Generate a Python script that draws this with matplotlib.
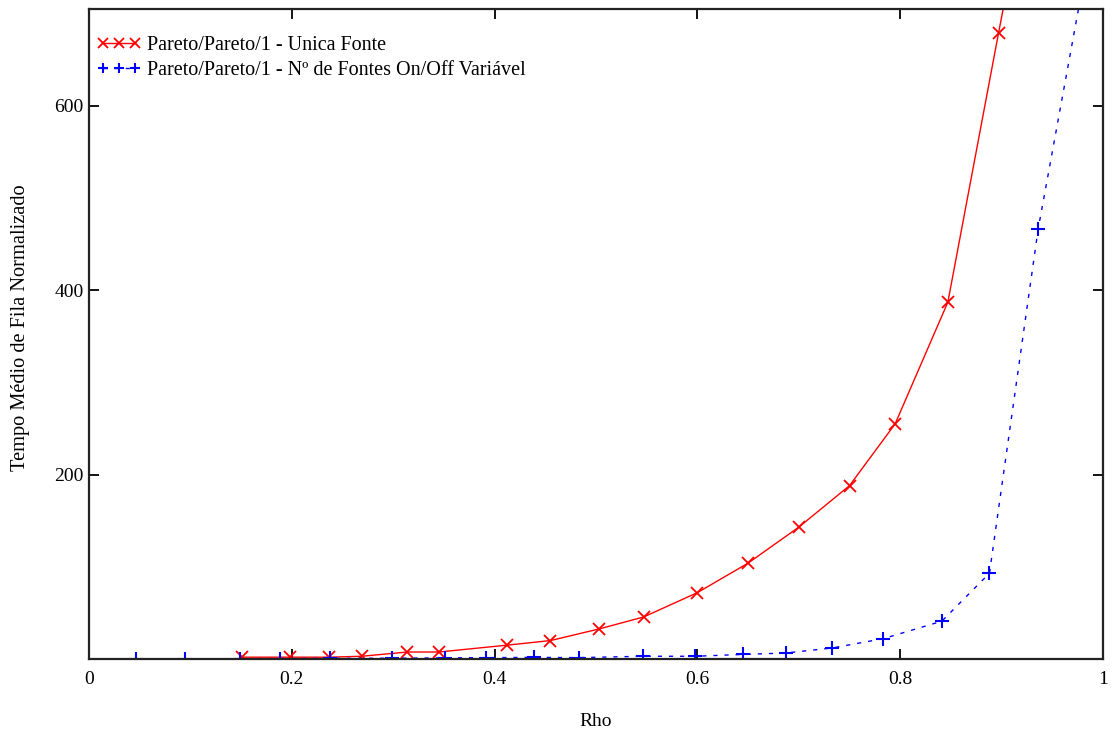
import matplotlib
matplotlib.use("Agg")
import matplotlib.pyplot as plt

# Pareto/Pareto/1 queue, single source
rho_unica = [0.151, 0.198, 0.237, 0.269, 0.314, 0.345, 0.412, 0.455, 0.503,
             0.547, 0.600, 0.650, 0.700, 0.750, 0.795, 0.847, 0.897, 0.948]
tempo_unica = [2, 2, 2, 3, 7.6, 7.6, 15, 20, 32.6,
               45.6, 72, 104, 143, 188, 255, 387, 679, 970]

# Pareto/Pareto/1 queue, variable number of On/Off sources
rho_var = [0.046, 0.095, 0.149, 0.188, 0.238, 0.299, 0.351, 0.392, 0.439,
           0.483, 0.546, 0.598, 0.645, 0.687, 0.733, 0.783, 0.841, 0.888,
           0.936, 0.990]
tempo_var = [0.2, 0.3, 0.4, 0.5, 0.7, 0.9, 1.2, 1.5, 1.8,
             1.5, 3, 3, 5, 6.5, 12, 22, 41, 93,
             466, 790]

label_unica = "Pareto/Pareto/1 - Unica Fonte"
label_var = "Pareto/Pareto/1 - Nº de Fontes On/Off Variável"

plt.rcParams["font.family"] = ["Liberation Serif", "DejaVu Serif"]

fig = plt.figure(figsize=(11.18, 7.37), dpi=100)
ax = fig.add_axes([0.0796, 0.1058, 0.9070, 0.8822])

ax.plot(rho_unica, tempo_unica, color="red", lw=1.0, marker="x",
        markersize=9, markeredgewidth=1.3, label=label_unica)
ax.plot(rho_var, tempo_var, color="blue", lw=1.0, ls=(0, (3, 5)), marker="+",
        markersize=10, markeredgewidth=1.5, label=label_var)

ax.set_xlim(0, 1)
ax.set_ylim(0, 705)
ax.set_xticks([0, 0.2, 0.4, 0.6, 0.8, 1])
ax.set_xticklabels(["0", "0.2", "0.4", "0.6", "0.8", "1"])
ax.set_yticks([200, 400, 600])

ax.tick_params(direction="in", length=7, width=1.3, top=True, right=True,
               labelsize=14, pad=8.5, colors="black")
ax.tick_params(axis="y", pad=4)
for sp in ax.spines.values():
    sp.set_linewidth(1.6)
    sp.set_color("#222222")

ax.set_xlabel("Rho", fontsize=14, labelpad=18)
ax.set_ylabel("Tempo Médio de Fila Normalizado", fontsize=14.7)
ax.yaxis.set_label_coords(-0.058, 0.51)

ax.legend(loc="upper left", bbox_to_anchor=(-0.006, 0.98), frameon=False,
          fontsize=14.5, numpoints=3, markerscale=0.75,
          handlelength=2.2, handletextpad=0.3, borderaxespad=0.3,
          labelspacing=0.3)

fig.savefig("out.png", dpi=100)
